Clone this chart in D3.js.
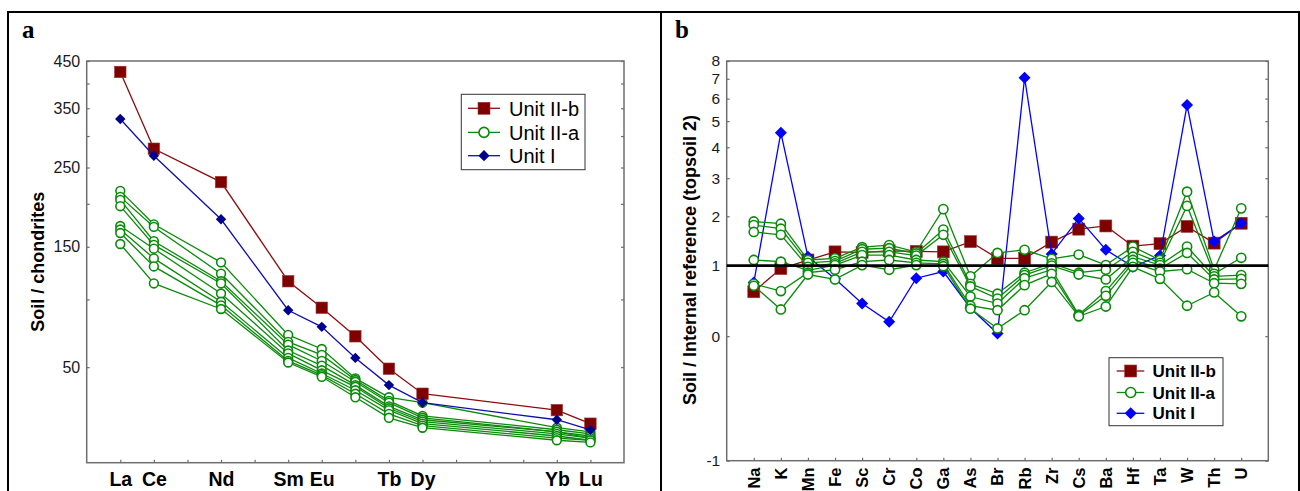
<!DOCTYPE html>
<html><head><meta charset="utf-8">
<script src="https://cdn.jsdelivr.net/npm/d3@7"></script>
<style>
body{margin:0;background:#fff;}
svg{display:block;font-family:Arial,"Liberation Sans",sans-serif;}
</style></head><body>
<svg id="c" width="1300" height="491"></svg>
<script>
// ---------- Panel a data (REE, chondrite-normalised) ----------
const reeElements = ["La","Ce","Nd","Sm","Eu","Gd","Tb","Dy","Yb","Lu"];
const reeAtomicNumbers = [57,58,60,62,63,64,65,66,70,71];
const reeTickLabels = ["La","Ce","Nd","Sm","Eu","Tb","Dy","Yb","Lu"];
const reeTickNumbers = [57,58,60,62,63,65,66,70,71];
const reeYTicks = [50,150,250,350,450];
const reeYMinorTicks = [100,200,300,400];
const reeUnitIIb = [425,279,229,116,93,71,49,34,25,18];
const reeUnitI   = [330,268,181,91,78,56,39,29,20,15];
const reeUnitIIa1 = [217,175,134,72,62,43,32,29,16,14];
const reeUnitIIa2 = [209,172,123,67,58,42,30,22,15,13];
const reeUnitIIa3 = [205,156,116,65,54,41,29,21,14,12];
const reeUnitIIa4 = [197,152,114,61,51,39,27,20,14,11];
const reeUnitIIa5 = [173,148,105,59,48,38,26,19,13,11];
const reeUnitIIa6 = [169,138,98,56,46,36,25,18,12,10];
const reeUnitIIa7 = [165,130,95,54,45,34,23,17,11,10];
const reeUnitIIa8 = [153,114,92,53,44,32,21,16,10,9];

// ---------- Panel b data (soil / internal reference) ----------
const traceElements = ["Na","K","Mn","Fe","Sc","Cr","Co","Ga","As","Br","Rb","Zr","Cs","Ba","Hf","Ta","W","Th","U"];
const traceYTicks = [-1,0,1,2,3,4,5,6,7,8];
const traceUnitIIb = [0.58,0.95,1.10,1.25,1.24,1.27,1.26,1.25,1.45,1.13,1.13,1.44,1.71,1.78,1.36,1.41,1.77,1.42,1.84];
const traceUnitI   = [0.72,4.54,1.16,0.78,0.41,0.17,0.79,0.90,0.35,0.03,7.06,1.21,1.95,1.29,0.98,1.18,5.70,1.45,1.84];
const traceUnitIIa1 = [1.88,1.83,1.10,1.13,1.34,1.38,1.25,2.17,0.82,1.23,1.29,1.12,1.20,1.01,1.35,1.10,2.62,0.93,2.19];
const traceUnitIIa2 = [1.80,1.72,1.05,1.08,1.30,1.32,1.22,1.70,0.70,0.55,0.88,1.04,0.88,0.93,1.25,1.05,2.25,0.86,1.14];
const traceUnitIIa3 = [1.65,1.59,0.98,1.04,1.25,1.25,1.18,1.59,0.66,0.48,0.84,1.00,0.85,0.77,1.16,1.01,1.35,0.82,0.84];
const traceUnitIIa4 = [1.10,1.07,0.92,1.01,1.19,1.19,1.10,1.07,0.51,0.41,0.79,0.93,0.26,0.59,1.10,0.95,1.23,0.77,0.78];
const traceUnitIIa5 = [0.70,0.59,0.88,0.93,1.07,1.10,1.05,1.03,0.38,0.32,0.68,0.86,0.25,0.52,1.05,0.90,0.94,0.71,0.70];
const traceUnitIIa6 = [0.67,0.33,0.85,0.77,1.01,0.93,1.01,0.99,0.34,0.09,0.32,0.73,0.24,0.37,0.98,0.78,0.38,0.57,0.24];
const traceReference = 1;
const legendLabels = ["Unit II-b","Unit II-a","Unit I"];

// ---------- styles ----------
const RED = "#800000", RED_LINE = "#8b0d0d", GREEN = "#0a8a0a";
const BLUE_A = "#00008f", BLUE_B = "#0000ff";
const FRAME = "#6e6e6e", TXT = "#1a1a1a";

const svg = d3.select("#c");

// outer table borders
[[8,12,1300,12],[8,11,8,491],[661,11,661,491],[1299,11,1299,491]].forEach(l=>{
  svg.append("line").attr("x1",l[0]).attr("y1",l[1]).attr("x2",l[2]).attr("y2",l[3])
    .attr("stroke","#000").attr("stroke-width",2);
});
svg.append("text").attr("x",22).attr("y",37.5).text("a")
  .attr("font-family","'Liberation Serif','Times New Roman',serif").attr("font-weight","bold").attr("font-size",25);
svg.append("text").attr("x",675).attr("y",37.5).text("b")
  .attr("font-family","'Liberation Serif','Times New Roman',serif").attr("font-weight","bold").attr("font-size",25);

function styleAxis(g, size){
  g.select(".domain").remove();
  g.selectAll(".tick line").attr("stroke",FRAME).attr("stroke-width",1.2);
  g.selectAll(".tick text").attr("fill",TXT).attr("font-size",size).attr("font-family","Arial,'Liberation Sans',sans-serif");
}

function marker(g, type, x, y, color, size){
  if(type==="square"){
    g.append("rect").attr("x",x-size/2).attr("y",y-size/2).attr("width",size).attr("height",size)
      .attr("fill",color).attr("stroke","#9a3a3a").attr("stroke-width",0.6);
  } else if(type==="circle"){
    g.append("circle").attr("cx",x).attr("cy",y).attr("r",size)
      .attr("fill","#fff").attr("stroke",color).attr("stroke-width",1.6);
  } else {
    g.append("path").attr("d",d3.symbol(d3.symbolSquare, size*size*2)())
      .attr("transform",`translate(${x},${y}) rotate(45)`).attr("fill",color);
  }
}

function series(g, xs, ys, color, lineColor, type, size){
  const line = d3.line().x((d,i)=>xs[i]).y(d=>d);
  g.append("path").attr("d",line(ys)).attr("fill","none").attr("stroke",lineColor).attr("stroke-width",1.3);
  ys.forEach((y,i)=>marker(g,type,xs[i],y,color,size));
}

// ================= Panel a =================
{
  const L=86.7, R=624, T=61, B=462.7;
  const x = d3.scaleLinear().domain([56,72]).range([L,R]);
  const y = d3.scaleSymlog().constant(100).domain([0,450]).range([B,T]);
  const g = svg.append("g");

  g.append("g").attr("transform",`translate(${L},0)`).call(d3.axisLeft(y).tickValues(reeYTicks).tickSize(-3).tickPadding(6.5).tickFormat(d3.format("d"))).call(s=>styleAxis(s,16));
  g.append("g").attr("transform",`translate(${L},0)`).call(d3.axisLeft(y).tickValues(reeYMinorTicks).tickSize(-3).tickFormat("")).call(s=>styleAxis(s,16));
  g.append("g").attr("transform",`translate(${R},0)`).call(d3.axisRight(y).tickValues(reeYTicks.concat(reeYMinorTicks)).tickSize(-3).tickFormat("")).call(s=>styleAxis(s,16));
  g.append("g").attr("transform",`translate(0,${B})`).call(d3.axisBottom(x).tickValues(d3.range(57,72)).tickSize(-3).tickFormat("")).call(s=>styleAxis(s,16));
  const xl = g.append("g").attr("transform",`translate(0,${B})`).call(d3.axisBottom(x).tickValues(reeTickNumbers).tickSize(0).tickFormat((d,i)=>reeTickLabels[i]));
  xl.select(".domain").remove();
  xl.selectAll(".tick text").attr("y",0).attr("dy",0).attr("transform","translate(0,23.5)")
    .attr("font-size",19.5).attr("font-weight","bold").attr("fill","#000").attr("font-family","Arial,'Liberation Sans',sans-serif");

  g.append("rect").attr("x",L).attr("y",T).attr("width",R-L).attr("height",B-T)
    .attr("fill","none").attr("stroke",FRAME).attr("stroke-width",1.5);

  g.append("text").attr("transform",`translate(43.5,${(T+B)/2}) rotate(-90)`).attr("text-anchor","middle")
    .attr("font-weight","bold").attr("font-size",18).text("Soil / chondrites");

  const xs = reeAtomicNumbers.map(x);
  [reeUnitIIa1,reeUnitIIa2,reeUnitIIa3,reeUnitIIa4,reeUnitIIa5,reeUnitIIa6,reeUnitIIa7,reeUnitIIa8]
    .forEach(s=>series(g, xs, s.map(y), GREEN, GREEN, "circle", 4.4));
  series(g, xs, reeUnitIIb.map(y), RED, RED_LINE, "square", 11.5);
  series(g, xs, reeUnitI.map(y), BLUE_A, "#1010a8", "diamond", 5.2);

  // legend
  const lg = g.append("g");
  lg.append("rect").attr("x",461.3).attr("y",94.3).attr("width",123.7).attr("height",75.4)
    .attr("fill","#fff").attr("stroke","#333").attr("stroke-width",1);
  const ly = [108.3,132.4,155.7];
  const lc = [[RED,RED_LINE,"square",12],[GREEN,GREEN,"circle",5],[BLUE_A,"#1010a8","diamond",5.6]];
  legendLabels.forEach((t,i)=>{
    lg.append("line").attr("x1",468).attr("x2",500).attr("y1",ly[i]).attr("y2",ly[i]).attr("stroke",lc[i][1]).attr("stroke-width",1.3);
    marker(lg, lc[i][2], 484, ly[i], lc[i][0], lc[i][3]);
    lg.append("text").attr("x",509).attr("y",ly[i]).attr("dy","0.36em").attr("font-size",20).attr("fill","#000").text(t);
  });
}

// ================= Panel b =================
{
  const L=726.7, R=1268.3, T=61, B=460.7;
  const shift = 1.9;
  const x = d3.scalePoint().domain(traceElements).range([L,R]).padding(1);
  const yl = d3.scaleLog().domain([traceYTicks[0]+shift, traceYTicks[traceYTicks.length-1]+shift]).range([B,T]);
  const y = v => yl(v+shift);
  const g = svg.append("g");

  const tv = traceYTicks.map(v=>v+shift);
  g.append("g").attr("transform",`translate(${L},0)`).call(d3.axisLeft(yl).tickValues(tv).tickSize(-3).tickPadding(6.5).tickFormat((d,i)=>traceYTicks[i])).call(s=>styleAxis(s,15.5));
  g.append("g").attr("transform",`translate(${R},0)`).call(d3.axisRight(yl).tickValues(tv).tickSize(-3).tickFormat("")).call(s=>styleAxis(s,15.5));
  g.append("g").attr("transform",`translate(0,${B})`).call(d3.axisBottom(x).tickSize(-3).tickFormat("")).call(s=>styleAxis(s,15.5));

  g.selectAll(".xlab").data(traceElements).enter().append("text")
    .attr("transform",d=>`translate(${x(d)},467.5) rotate(-90)`).attr("dy","0.36em")
    .attr("text-anchor","end").attr("font-weight","bold").attr("font-size",16.5).attr("fill","#000").text(d=>d);

  g.append("rect").attr("x",L).attr("y",T).attr("width",R-L).attr("height",B-T)
    .attr("fill","none").attr("stroke",FRAME).attr("stroke-width",1.5);

  g.append("text").attr("transform",`translate(696,260) rotate(-90)`).attr("text-anchor","middle")
    .attr("font-weight","bold").attr("font-size",18).text("Soil / Internal reference (topsoil 2)");

  const xs = traceElements.map(x);
  series(g, xs, traceUnitIIb.map(y), RED, RED_LINE, "square", 12);
  series(g, xs, traceUnitI.map(y), BLUE_B, BLUE_B, "diamond", 6);
  [traceUnitIIa1,traceUnitIIa2,traceUnitIIa3,traceUnitIIa4,traceUnitIIa5,traceUnitIIa6]
    .forEach(s=>series(g, xs, s.map(y), GREEN, GREEN, "circle", 4.6));

  g.append("line").attr("x1",L).attr("x2",R).attr("y1",y(traceReference)).attr("y2",y(traceReference))
    .attr("stroke","#000").attr("stroke-width",2.6);

  const lg = g.append("g");
  lg.append("rect").attr("x",1109).attr("y",357.7).attr("width",114).attr("height",68)
    .attr("fill","#fff").attr("stroke","#333").attr("stroke-width",1);
  const ly = [371,392.5,413.3];
  const lc = [[RED,RED_LINE,"square",12],[GREEN,GREEN,"circle",5],[BLUE_B,BLUE_B,"diamond",6]];
  legendLabels.forEach((t,i)=>{
    lg.append("line").attr("x1",1116.7).attr("x2",1144.3).attr("y1",ly[i]).attr("y2",ly[i]).attr("stroke",lc[i][1]).attr("stroke-width",1.3);
    marker(lg, lc[i][2], 1130.7, ly[i], lc[i][0], lc[i][3]);
    lg.append("text").attr("x",1152.5).attr("y",ly[i]).attr("dy","0.36em").attr("font-size",17).attr("font-weight","bold").attr("fill","#000").text(t);
  });
}
</script>
</body></html>
